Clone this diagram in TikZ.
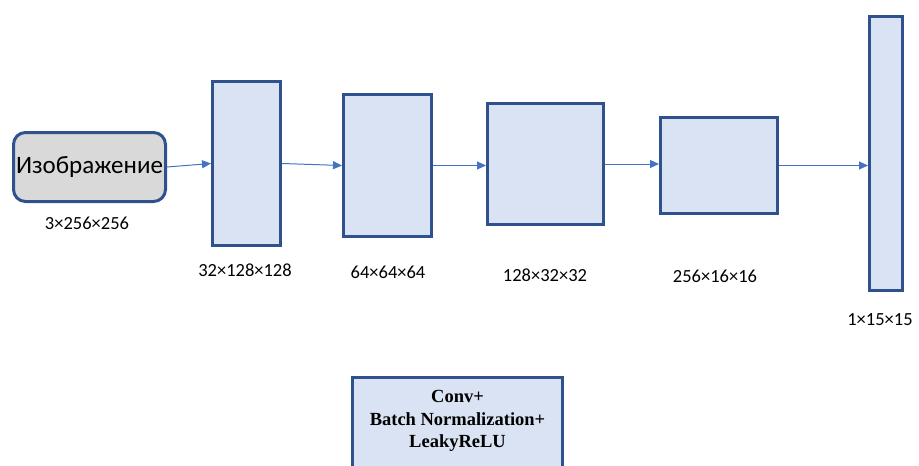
\documentclass[tikz,border=0pt]{standalone}
\usepackage{fontspec}
\setmainfont{Carlito}
\newfontfamily\legendfont{Liberation Serif}
\usetikzlibrary{arrows.meta,positioning}
\definecolor{boxline}{HTML}{2F528F}
\definecolor{boxfill}{HTML}{DAE3F3}
\definecolor{imgfill}{HTML}{D9D9D9}
\definecolor{arrowc}{HTML}{4472C4}

\begin{document}
\begin{tikzpicture}[x=1pt, y=-1pt,
    layer/.style = {draw=boxline, fill=boxfill, line width=3pt, inner sep=0pt},
    dims/.style = {font=\fontsize{18.5}{22}\selectfont},
    link/.style = {draw=arrowc, line width=1pt, -{Triangle[length=9pt,width=8pt]}}]
\useasboundingbox (0,0) rectangle (919,466);

\node[layer, fill=imgfill, rounded corners=12pt, minimum width=152pt, minimum height=69pt,
    font=\fontsize{25}{30}\selectfont] (img) at (89.5,167) {Изображение};
\node[layer, minimum width=68pt, minimum height=164pt] (conv_1) at (246.5,163.5) {};
\node[layer, minimum width=88pt, minimum height=142pt] (conv_2) at (387.5,165.5) {};
\node[layer, minimum width=116pt, minimum height=121pt] (conv_3) at (545.5,164) {};
\node[layer, minimum width=117pt, minimum height=96pt] (conv_4) at (719,165.5) {};
\node[layer, minimum width=33pt, minimum height=274pt] (out) at (886,153.5) {};

\node[dims] (d_img) at (87,223) {3×256×256};
\node[dims] (d_1) at (245,270) {32×128×128};
\node[dims] (d_2) at (388,272) {64×64×64};
\node[dims] (d_3) at (545,275) {128×32×32};
\node[dims] (d_4) at (715,276) {256×16×16};
\node[dims] (d_out) at (880,320) {1×15×15};

\node[layer, minimum width=210pt, minimum height=91pt] (legend) at (457.5,422.5) {};
\node[align=center, font=\legendfont\bfseries\fontsize{18.5}{22.5}\selectfont] (legend_text) at (457.5,421)
    {Conv+\\Batch Normalization+\\LeakyReLU};

\draw[link] (img.east) -- (conv_1.west);
\draw[link] (conv_1.east) -- (conv_2.west);
\draw[link] (conv_2.east) -- (conv_2.east -| conv_3.west);
\draw[link] (conv_3.east) -- (conv_3.east -| conv_4.west);
\coordinate (out_in) at (out.west |- conv_4.east);
\draw[link] (conv_4.east) -- (out_in);
\end{tikzpicture}
\end{document}
